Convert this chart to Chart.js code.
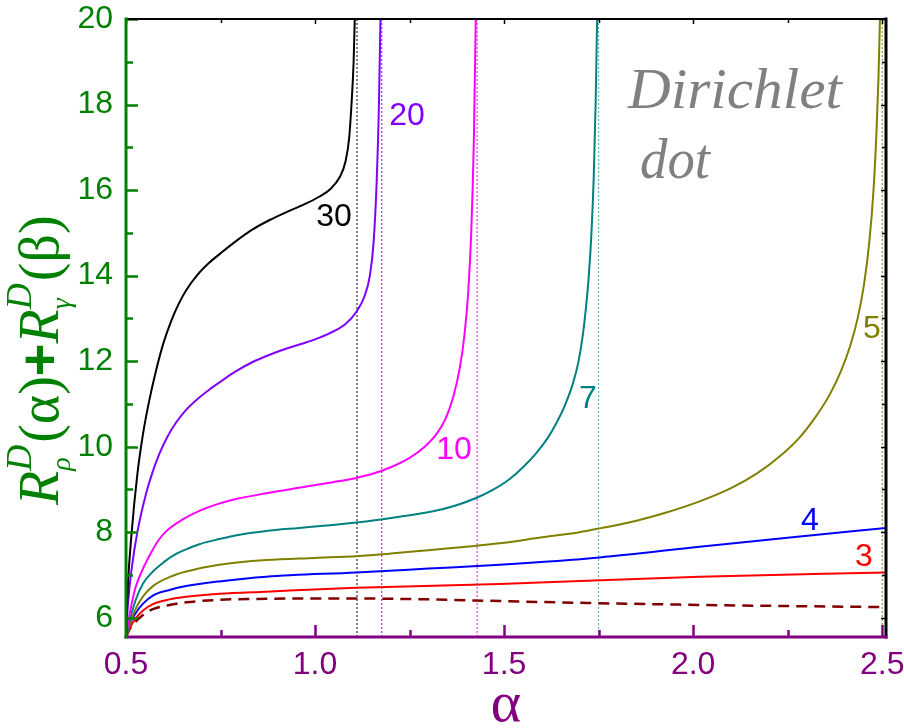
<!DOCTYPE html>
<html>
<head>
<meta charset="utf-8">
<script src="https://cdn.jsdelivr.net/npm/chart.js@4.4.1/dist/chart.umd.min.js"></script>
<style>
  body { margin: 0; background: #fff; }
  canvas { display: block; }
</style>
</head>
<body>
<canvas id="chart" width="904" height="728"></canvas>
<script>
// tick values
const xTicks = [0.5, 1.0, 1.5, 2.0, 2.5];
const xMinor = [0.75, 1.25, 1.75, 2.25];
const yTicks = [6, 8, 10, 12, 14, 16, 18, 20];
const yMinor = [7, 9, 11, 13, 15, 17, 19];

// N = 30
const n30X = [0.5, 0.505, 0.515, 0.53, 0.545, 0.562, 0.58, 0.6, 0.62, 0.64, 0.66, 0.69, 0.72, 0.75, 0.79, 0.835, 0.88, 0.923, 0.97, 1.012, 1.04, 1.065, 1.08, 1.09, 1.097, 1.102, 1.105];
const n30Y = [5.55, 6.75, 8.0, 9.35, 10.3, 11.1, 11.8, 12.45, 12.95, 13.35, 13.67, 14.03, 14.3, 14.52, 14.8, 15.08, 15.3, 15.48, 15.66, 15.85, 16.02, 16.3, 16.65, 17.2, 18.1, 19.0, 20];
// N = 20
const n20X = [0.5, 0.505, 0.515, 0.53, 0.553, 0.57, 0.589, 0.61, 0.633, 0.659, 0.69, 0.72, 0.75, 0.79, 0.835, 0.88, 0.923, 0.97, 1.012, 1.05, 1.082, 1.109, 1.13, 1.145, 1.155, 1.163, 1.169, 1.173];
const n20Y = [5.55, 6.3, 7.15, 8.0, 8.9, 9.4, 9.85, 10.24, 10.57, 10.86, 11.12, 11.33, 11.52, 11.76, 11.98, 12.15, 12.29, 12.42, 12.55, 12.7, 12.88, 13.15, 13.5, 14.0, 14.8, 16.2, 18.0, 20];
// N = 10
const n10X = [0.5, 0.51, 0.525, 0.545, 0.562, 0.585, 0.606, 0.65, 0.694, 0.74, 0.783, 0.871, 0.958, 1.047, 1.109, 1.15, 1.2, 1.25, 1.29, 1.32, 1.345, 1.365, 1.382, 1.395, 1.405, 1.413, 1.42, 1.425];
const n10Y = [5.55, 6.1, 6.7, 7.15, 7.45, 7.8, 8.02, 8.3, 8.5, 8.65, 8.76, 8.91, 9.04, 9.17, 9.27, 9.36, 9.52, 9.74, 10.0, 10.28, 10.65, 11.15, 11.8, 12.6, 13.6, 15.0, 17.2, 20];
// N = 7
const n7X = [0.5, 0.51, 0.525, 0.545, 0.571, 0.6, 0.63, 0.659, 0.694, 0.747, 0.8, 0.871, 0.958, 1.047, 1.135, 1.223, 1.312, 1.37, 1.426, 1.47, 1.514, 1.55, 1.585, 1.615, 1.638, 1.66, 1.682, 1.697, 1.708, 1.717, 1.724, 1.731, 1.737, 1.742, 1.746];
const n7Y = [5.55, 5.95, 6.4, 6.8, 7.08, 7.3, 7.48, 7.6, 7.72, 7.84, 7.94, 8.03, 8.1, 8.17, 8.25, 8.36, 8.49, 8.62, 8.8, 8.99, 9.24, 9.52, 9.85, 10.2, 10.55, 10.95, 11.48, 12.0, 12.6, 13.3, 14.0, 15.0, 16.3, 18.0, 20];
// N = 5
const n5X = [0.5, 0.51, 0.525, 0.545, 0.571, 0.615, 0.659, 0.747, 0.871, 1.0, 1.109, 1.2, 1.3, 1.4, 1.488, 1.6, 1.7, 1.753, 1.85, 1.929, 2.017, 2.1, 2.17, 2.23, 2.28, 2.32, 2.36, 2.39, 2.415, 2.435, 2.452, 2.466, 2.477, 2.485, 2.49, 2.494];
const n5Y = [5.55, 5.85, 6.2, 6.5, 6.74, 6.95, 7.08, 7.24, 7.35, 7.4, 7.44, 7.5, 7.58, 7.66, 7.74, 7.88, 8.0, 8.09, 8.27, 8.46, 8.72, 9.03, 9.38, 9.78, 10.2, 10.65, 11.2, 11.75, 12.35, 13.0, 13.8, 14.8, 16.0, 17.4, 18.6, 20];
// N = 4
const n4X = [0.5, 0.51, 0.525, 0.545, 0.571, 0.615, 0.659, 0.747, 0.871, 1.109, 1.3, 1.488, 1.753, 2.017, 2.282, 2.51];
const n4Y = [5.55, 5.85, 6.1, 6.33, 6.52, 6.65, 6.74, 6.85, 6.96, 7.06, 7.15, 7.24, 7.41, 7.66, 7.9, 8.1];
// N = 3
const n3X = [0.5, 0.51, 0.525, 0.545, 0.571, 0.615, 0.659, 0.747, 0.871, 1.109, 1.488, 2.017, 2.51];
const n3Y = [5.55, 5.76, 5.98, 6.17, 6.32, 6.43, 6.49, 6.56, 6.61, 6.7, 6.79, 6.96, 7.06];
// dashed curve
const dashX = [0.5, 0.51, 0.53, 0.55, 0.571, 0.615, 0.659, 0.75, 0.835, 1.0, 1.1, 1.3, 1.488, 1.753, 2.017, 2.282, 2.5];
const dashY = [5.55, 5.74, 5.95, 6.1, 6.2, 6.3, 6.36, 6.42, 6.44, 6.45, 6.45, 6.43, 6.39, 6.34, 6.3, 6.27, 6.25];

// asymptotes (dotted verticals) for N = 30, 20, 10, 7, 5
const asymX = [1.111, 1.1765, 1.4286, 1.75, 2.5];
const asymColors = ['#000000', '#8000ff', '#ff00ff', '#4aa8a8', '#808000'];

const Y_MIN = 5.55, Y_MAX = 20, X_MIN = 0.5, X_MAX = 2.51;

function pts(xs, ys) {
  return xs.map((x, i) => ({ x: x, y: ys[i] }));
}

function curve(xs, ys, color, dash, width) {
  return {
    data: pts(xs, ys),
    borderColor: color,
    borderWidth: width || 2,
    borderDash: dash || [],
    pointRadius: 0,
    cubicInterpolationMode: 'monotone',
    fill: false,
    order: 1
  };
}

const datasets = [
  curve(n30X, n30Y, '#000000'),
  curve(n20X, n20Y, '#8000ff'),
  curve(n10X, n10Y, '#ff00ff'),
  curve(n7X, n7Y, '#008080'),
  curve(n5X, n5Y, '#808000'),
  curve(n4X, n4Y, '#0000ff'),
  curve(n3X, n3Y, '#ff0000'),
  curve(dashX, dashY, '#800000', [11, 7], 2.5)
];

asymX.forEach((x, i) => {
  datasets.push({
    data: [{ x: x, y: Y_MIN }, { x: x, y: Y_MAX }],
    borderColor: asymColors[i],
    borderWidth: 1,
    borderDash: [2, 2],
    pointRadius: 0,
    fill: false,
    order: 5
  });
});

// curve labels
const curveLabels = [
  { text: '30', x: 334, y: 217, color: '#000000' },
  { text: '20', x: 407, y: 116, color: '#8000ff' },
  { text: '10', x: 454, y: 450, color: '#ff00ff' },
  { text: '7', x: 588, y: 399, color: '#008080' },
  { text: '5', x: 872, y: 329, color: '#808000' },
  { text: '4', x: 810, y: 521, color: '#0000ff' },
  { text: '3', x: 864, y: 557, color: '#ff0000' }
];

const frame = {
  id: 'frame',
  afterDatasetsDraw(chart) {
    const ctx = chart.ctx;
    const a = chart.chartArea;
    const xs = chart.scales.x, ys = chart.scales.y;
    ctx.save();

    // ticks (inward)
    function vTicks(vals, len, color, w, top) {
      ctx.strokeStyle = color; ctx.lineWidth = w;
      vals.forEach(v => {
        const px = Math.round(xs.getPixelForValue(v)) + 0.5;
        ctx.beginPath();
        if (top) { ctx.moveTo(px, a.top); ctx.lineTo(px, a.top + len); }
        else { ctx.moveTo(px, a.bottom); ctx.lineTo(px, a.bottom - len); }
        ctx.stroke();
      });
    }
    function hTicks(vals, len, color, w, right) {
      ctx.strokeStyle = color; ctx.lineWidth = w;
      vals.forEach(v => {
        const py = Math.round(ys.getPixelForValue(v)) + 0.5;
        ctx.beginPath();
        if (right) { ctx.moveTo(a.right, py); ctx.lineTo(a.right - len, py); }
        else { ctx.moveTo(a.left, py); ctx.lineTo(a.left + len, py); }
        ctx.stroke();
      });
    }
    vTicks(xTicks, 12, '#800080', 2.5, false);
    vTicks(xMinor, 7, '#800080', 2.5, false);
    vTicks(xTicks, 5, '#000000', 1.5, true);
    vTicks(xMinor, 4, '#000000', 1.5, true);
    hTicks(yTicks, 12, '#008000', 2.5, false);
    hTicks(yMinor, 7, '#008000', 2.5, false);
    hTicks(yTicks, 5, '#000000', 1.5, true);
    hTicks(yMinor, 4, '#000000', 1.5, true);

    // axis lines
    ctx.lineCap = 'square';
    ctx.strokeStyle = '#000000'; ctx.lineWidth = 2;
    ctx.beginPath(); ctx.moveTo(a.left, a.top); ctx.lineTo(a.right, a.top); ctx.stroke();
    ctx.lineWidth = 3;
    ctx.beginPath(); ctx.moveTo(a.right, a.top); ctx.lineTo(a.right, a.bottom); ctx.stroke();
    ctx.strokeStyle = '#800080'; ctx.lineWidth = 3;
    ctx.beginPath(); ctx.moveTo(a.left, a.bottom); ctx.lineTo(a.right, a.bottom); ctx.stroke();
    ctx.strokeStyle = '#008000'; ctx.lineWidth = 3;
    ctx.beginPath(); ctx.moveTo(a.left, a.top); ctx.lineTo(a.left, a.bottom); ctx.stroke();

    // curve labels
    ctx.font = '32px "Liberation Sans", Arial, sans-serif';
    ctx.textAlign = 'center';
    ctx.textBaseline = 'middle';
    curveLabels.forEach(l => {
      ctx.fillStyle = l.color;
      ctx.fillText(l.text, l.x, l.y);
    });

    // "Dirichlet dot"
    ctx.fillStyle = '#808080';
    ctx.textAlign = 'left';
    ctx.textBaseline = 'alphabetic';
    ctx.font = 'italic 58px "Liberation Serif", "DejaVu Serif", serif';
    function fitText(t, x, y, w) {
      const m = ctx.measureText(t).width;
      ctx.save();
      ctx.translate(x, y);
      ctx.scale(w / m, 1);
      ctx.fillText(t, 0, 0);
      ctx.restore();
    }
    fitText('Dirichlet', 628, 108, 214);
    fitText('dot', 640, 178, 70);

    // x title
    ctx.fillStyle = '#800080';
    ctx.textAlign = 'center';
    ctx.font = '58px "Liberation Serif", "DejaVu Serif", serif';
    ctx.fillText('α', 506, 721);

    // y title, rotated
    ctx.save();
    ctx.translate(58, 505);
    ctx.rotate(-Math.PI / 2);
    ctx.fillStyle = '#008000';
    ctx.textAlign = 'left';
    let cx = 0;
    const main = 56;
    function part(t, font, dy) {
      ctx.font = font;
      ctx.fillText(t, cx, dy || 0);
      return ctx.measureText(t).width;
    }
    function rTerm(sub) {
      cx += part('R', 'italic ' + main + 'px "Liberation Serif", serif');
      const w1 = part('D', 'italic 36px "Liberation Serif", serif', -27);
      const w2 = part(sub, 'italic 28px "Liberation Serif", serif', 12);
      cx += Math.max(w1, w2) + 2;
    }
    rTerm('ρ');
    cx += part('(α)', main + 'px "Liberation Serif", serif');
    cx += part('+', 'bold ' + main + 'px "Liberation Sans", sans-serif');
    rTerm('γ');
    cx += part('(β)', main + 'px "Liberation Serif", serif');
    ctx.restore();

    ctx.restore();
  }
};

function noPad(s) {
  s.paddingTop = 0; s.paddingBottom = 0; s.paddingLeft = 0; s.paddingRight = 0;
}

new Chart(document.getElementById('chart'), {
  type: 'line',
  data: { datasets: datasets },
  options: {
    responsive: false,
    animation: false,
    devicePixelRatio: 1,
    layout: { padding: { top: 19, right: 18, left: 0, bottom: 0 } },
    plugins: { legend: { display: false }, tooltip: { enabled: false } },
    scales: {
      x: {
        type: 'linear',
        min: X_MIN,
        max: X_MAX,
        afterBuildTicks: s => { s.ticks = xTicks.map(v => ({ value: v })); },
        afterFit: s => { s.height = 91; noPad(s); },
        grid: { display: false, drawTicks: false },
        border: { display: false },
        ticks: {
          color: '#800080',
          padding: 9,
          maxRotation: 0,
          font: { size: 32, family: '"Liberation Sans", Arial, sans-serif' },
          callback: v => Number(v).toFixed(1)
        }
      },
      y: {
        type: 'linear',
        min: Y_MIN,
        max: Y_MAX,
        afterBuildTicks: s => { s.ticks = yTicks.map(v => ({ value: v })); },
        afterFit: s => { s.width = 126; noPad(s); },
        grid: { display: false, drawTicks: false },
        border: { display: false },
        ticks: {
          color: '#008000',
          padding: 13,
          font: { size: 32, family: '"Liberation Sans", Arial, sans-serif' },
          callback: v => String(v)
        }
      }
    }
  },
  plugins: [frame]
});
</script>
</body>
</html>
